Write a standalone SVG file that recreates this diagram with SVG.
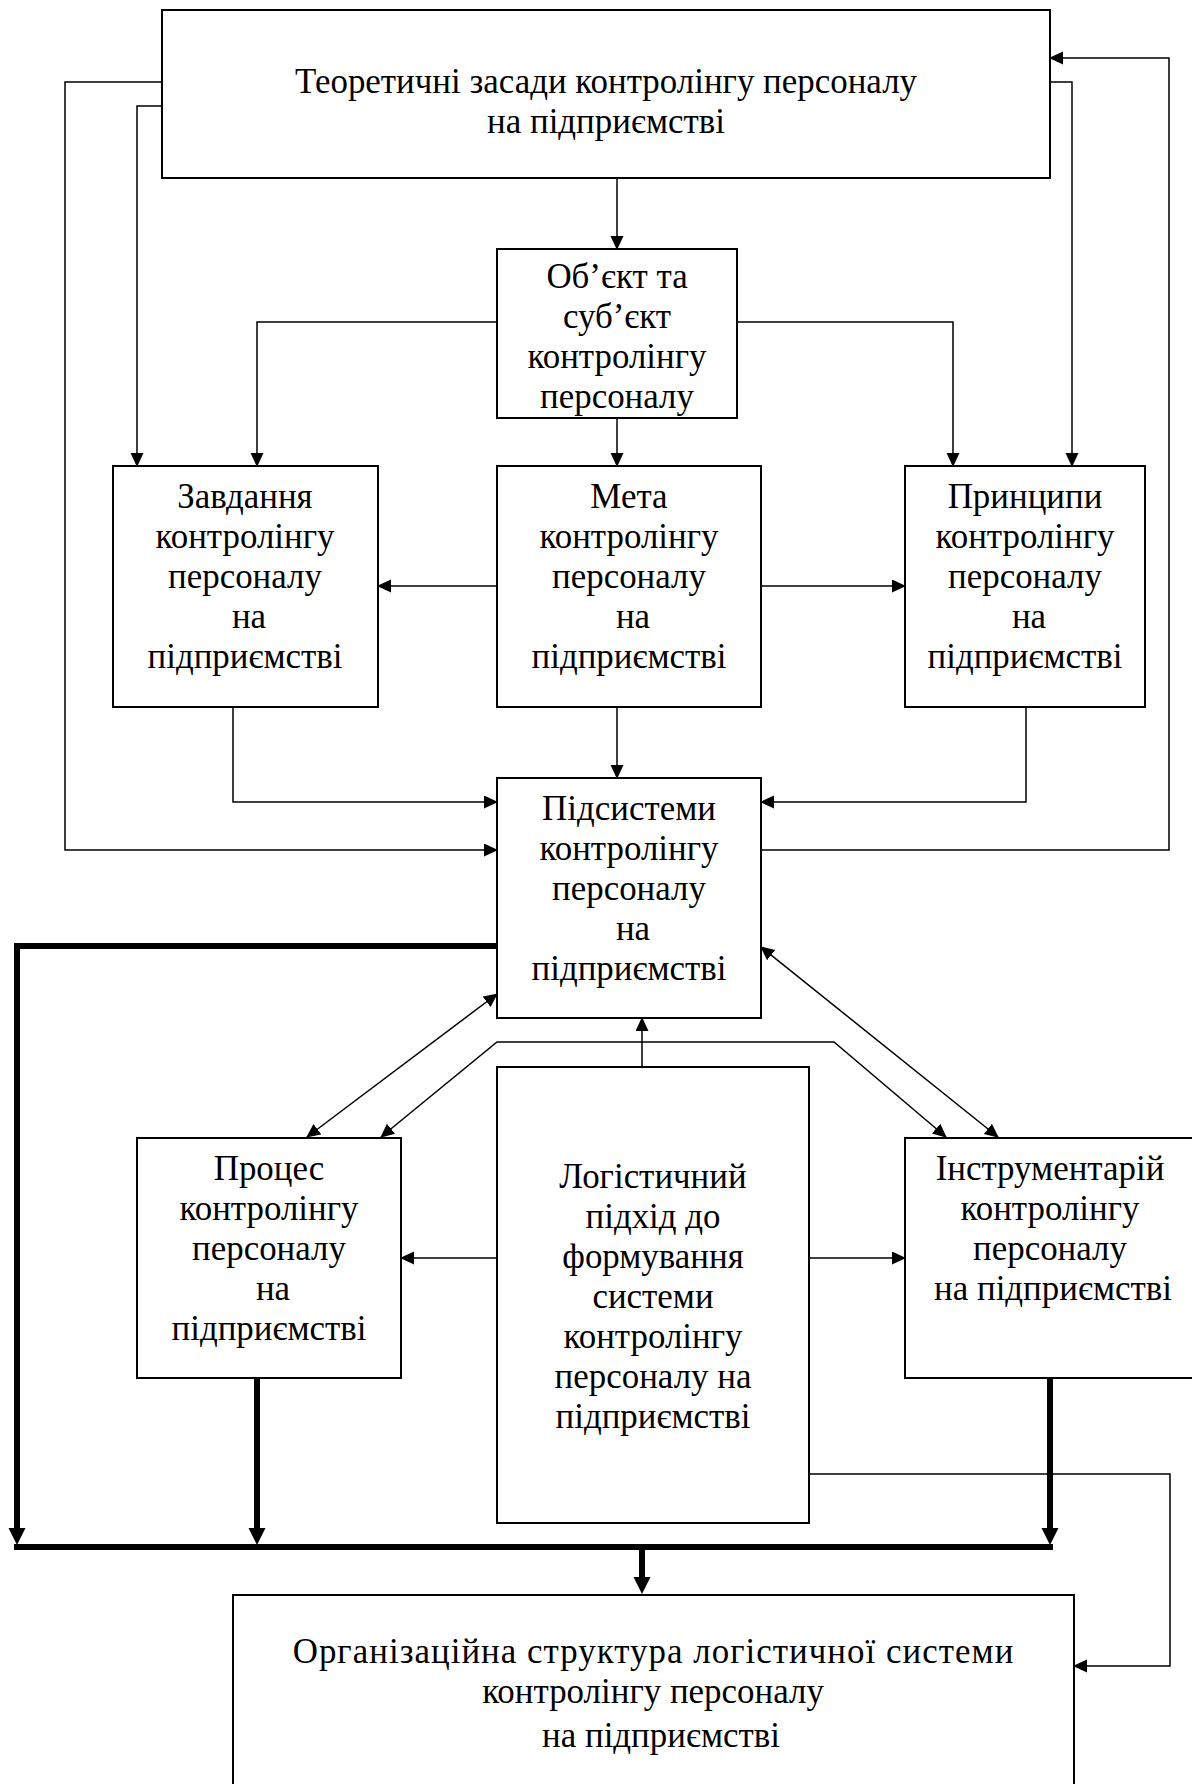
<svg xmlns="http://www.w3.org/2000/svg" width="1192" height="1784" viewBox="0 0 1192 1784">
<style>
  .box { fill: #fff; stroke: #000; stroke-width: 2; }
  .t { font-family: "Liberation Serif", "Times New Roman", serif; font-size: 36px; fill: #000; text-anchor: middle; }
  .c { fill: none; stroke: #000; stroke-width: 1.5; }
  .a { marker-end: url(#ah); }
  .d { marker-start: url(#ah); marker-end: url(#ah); }
  .k { fill: none; stroke: #000; stroke-width: 6; }
  .ka { marker-end: url(#kh); }
</style>
<defs>
  <marker id="ah" markerUnits="userSpaceOnUse" markerWidth="16" markerHeight="14" refX="13" refY="6.5" orient="auto-start-reverse">
    <path d="M0,0 L14,6.5 L0,13 z" fill="#000"/>
  </marker>
  <marker id="kh" markerUnits="userSpaceOnUse" markerWidth="18" markerHeight="18" refX="7" refY="8.5" orient="auto">
    <path d="M0,0 L17,8.5 L0,17 z" fill="#000"/>
  </marker>
</defs>
<rect width="1192" height="1784" fill="#fff"/>

<g id="connectors">
  <polyline class="c a" points="617,178 617,249"/>
  <polyline class="c a" points="162,82 65,82 65,850 497,850"/>
  <polyline class="c a" points="162,106 137,106 137,466"/>
  <polyline class="c a" points="1050,82 1072,82 1072,466"/>
  <polyline class="c a" points="761,850 1169,850 1169,58 1050,58"/>
  <polyline class="c a" points="497,322 257,322 257,466"/>
  <polyline class="c a" points="737,322 953,322 953,466"/>
  <polyline class="c a" points="617,418 617,466"/>
  <polyline class="c a" points="497,586 378,586"/>
  <polyline class="c a" points="761,586 905,586"/>
  <polyline class="c a" points="617,707 617,778"/>
  <polyline class="c a" points="233,707 233,802 497,802"/>
  <polyline class="c a" points="1026,707 1026,802 761,802"/>
  <polyline class="c d" points="307,1137 497,994"/>
  <polyline class="c d" points="381,1137 497,1042 834,1042 946,1137"/>
  <polyline class="c d" points="998,1137 761,947"/>
  <polyline class="c a" points="642,1067 642,1018"/>
  <polyline class="c a" points="497,1258 401,1258"/>
  <polyline class="c a" points="809,1258 905,1258"/>
  <polyline class="c a" points="809,1474 1170,1474 1170,1666 1074,1666"/>
  <polyline class="k ka" points="497,946 17,946 17,1535"/>
  <polyline class="k ka" points="257,1378 257,1535"/>
  <polyline class="k ka" points="1050,1378 1050,1535"/>
  <polyline class="k" points="14,1547 1053,1547"/>
  <polyline class="k ka" points="642,1547 642,1584"/>
</g>

<g id="n-teor">
  <rect class="box" x="162" y="10" width="888" height="168"/>
  <text class="t" transform="translate(606 93) scale(0.97 1)">Теоретичні засади контролінгу персоналу</text>
  <text class="t" transform="translate(606 133) scale(0.97 1)">на підприємстві</text>
</g>

<g id="n-obj">
  <rect class="box" x="497" y="249" width="240" height="169"/>
  <text class="t" transform="translate(617 288) scale(0.97 1)">Об’єкт та</text>
  <text class="t" transform="translate(617 328) scale(0.97 1)">суб’єкт</text>
  <text class="t" transform="translate(617 368) scale(0.97 1)">контролінгу</text>
  <text class="t" transform="translate(617 408) scale(0.97 1)">персоналу</text>
</g>

<g id="n-zavd">
  <rect class="box" x="113" y="466" width="265" height="241"/>
  <text class="t" transform="translate(245 508) scale(0.97 1)">Завдання</text>
  <text class="t" transform="translate(245 548) scale(0.97 1)">контролінгу</text>
  <text class="t" transform="translate(245 588) scale(0.97 1)">персоналу</text>
  <text class="t" transform="translate(249 628) scale(0.97 1)">на</text>
  <text class="t" transform="translate(245 668) scale(0.97 1)">підприємстві</text>
</g>

<g id="n-meta">
  <rect class="box" x="497" y="466" width="264" height="241"/>
  <text class="t" transform="translate(629 508) scale(0.97 1)">Мета</text>
  <text class="t" transform="translate(629 548) scale(0.97 1)">контролінгу</text>
  <text class="t" transform="translate(629 588) scale(0.97 1)">персоналу</text>
  <text class="t" transform="translate(633 628) scale(0.97 1)">на</text>
  <text class="t" transform="translate(629 668) scale(0.97 1)">підприємстві</text>
</g>

<g id="n-princ">
  <rect class="box" x="905" y="466" width="240" height="241"/>
  <text class="t" transform="translate(1025 508) scale(0.97 1)">Принципи</text>
  <text class="t" transform="translate(1025 548) scale(0.97 1)">контролінгу</text>
  <text class="t" transform="translate(1025 588) scale(0.97 1)">персоналу</text>
  <text class="t" transform="translate(1029 628) scale(0.97 1)">на</text>
  <text class="t" transform="translate(1025 668) scale(0.97 1)">підприємстві</text>
</g>

<g id="n-pidsys">
  <rect class="box" x="497" y="778" width="264" height="240"/>
  <text class="t" transform="translate(629 820) scale(0.97 1)">Підсистеми</text>
  <text class="t" transform="translate(629 860) scale(0.97 1)">контролінгу</text>
  <text class="t" transform="translate(629 900) scale(0.97 1)">персоналу</text>
  <text class="t" transform="translate(633 940) scale(0.97 1)">на</text>
  <text class="t" transform="translate(629 980) scale(0.97 1)">підприємстві</text>
</g>

<g id="n-proc">
  <rect class="box" x="137" y="1138" width="264" height="240"/>
  <text class="t" transform="translate(269 1180) scale(0.97 1)">Процес</text>
  <text class="t" transform="translate(269 1220) scale(0.97 1)">контролінгу</text>
  <text class="t" transform="translate(269 1260) scale(0.97 1)">персоналу</text>
  <text class="t" transform="translate(273 1300) scale(0.97 1)">на</text>
  <text class="t" transform="translate(269 1340) scale(0.97 1)">підприємстві</text>
</g>

<g id="n-log">
  <rect class="box" x="497" y="1067" width="312" height="456"/>
  <text class="t" transform="translate(653 1188) scale(0.97 1)">Логістичний</text>
  <text class="t" transform="translate(653 1228) scale(0.97 1)">підхід до</text>
  <text class="t" transform="translate(653 1268) scale(0.97 1)">формування</text>
  <text class="t" transform="translate(653 1308) scale(0.97 1)">системи</text>
  <text class="t" transform="translate(653 1348) scale(0.97 1)">контролінгу</text>
  <text class="t" transform="translate(653 1388) scale(0.97 1)">персоналу на</text>
  <text class="t" transform="translate(653 1428) scale(0.97 1)">підприємстві</text>
</g>

<g id="n-instr">
  <rect class="box" x="905" y="1138" width="292" height="240"/>
  <text class="t" transform="translate(1050 1180) scale(0.97 1)">Інструментарій</text>
  <text class="t" transform="translate(1050 1220) scale(0.97 1)">контролінгу</text>
  <text class="t" transform="translate(1050 1260) scale(0.97 1)">персоналу</text>
  <text class="t" transform="translate(1053 1300) scale(0.97 1)">на підприємстві</text>
</g>

<g id="n-org">
  <rect class="box" x="233" y="1595" width="841" height="210"/>
  <text class="t" transform="translate(653 1663) scale(0.97 1)" textLength="743" lengthAdjust="spacing">Організаційна структура логістичної системи</text>
  <text class="t" transform="translate(653 1703) scale(0.97 1)">контролінгу персоналу</text>
  <text class="t" transform="translate(661 1747) scale(0.97 1)">на підприємстві</text>
</g>
</svg>
